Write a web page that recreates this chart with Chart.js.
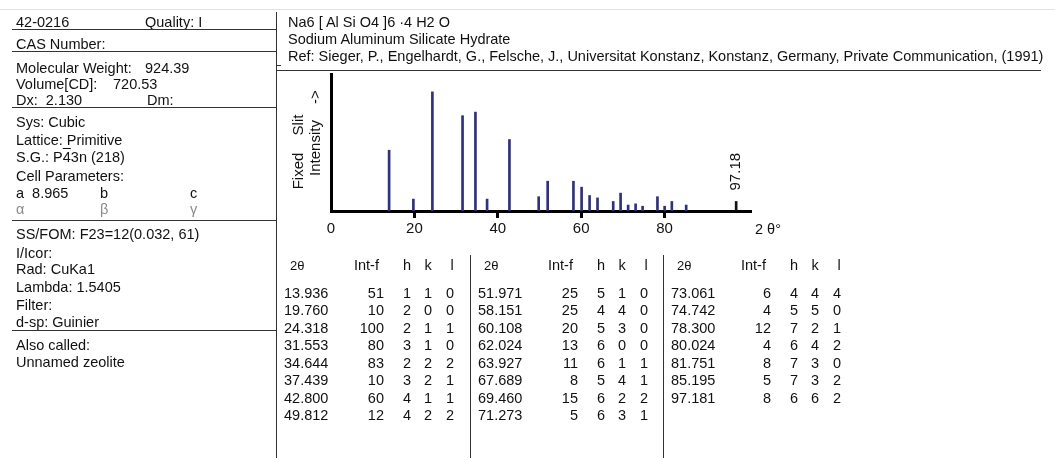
<!DOCTYPE html>
<html>
<head>
<meta charset="utf-8">
<script src="https://cdn.jsdelivr.net/npm/chart.js@4.4.0/dist/chart.umd.min.js"></script>
<style>
  html, body { margin: 0; padding: 0; background: #fff; }
  #page { position: relative; width: 1055px; height: 458px; overflow: hidden;
          font-family: "Liberation Sans", Arial, sans-serif; font-size: 14.5px; color: #111; }
  .t { position: absolute; white-space: pre; line-height: 17px; }
  .hl { position: absolute; height: 1px; background: #333; }
  .vl { position: absolute; width: 1px; background: #333; }
  .grey { color: #8a8a8a; }
  .rot { position: absolute; white-space: pre; font-size: 15px; line-height: 15px;
         transform: translate(-50%, -50%) rotate(-90deg); }
  canvas { position: absolute; left: 0; top: 0; }
</style>
</head>
<body>
<div id="page">
  <canvas id="xrd" width="1055" height="458"></canvas>
</div>
<script>
// peak list
const twoTheta  = [13.936, 19.760, 24.318, 31.553, 34.644, 37.439, 42.800, 49.812,
                   51.971, 58.151, 60.108, 62.024, 63.927, 67.689, 69.460, 71.273,
                   73.061, 74.742, 78.300, 80.024, 81.751, 85.195, 97.181];
const intensity = [51, 10, 100, 80, 83, 10, 60, 12,
                   25, 25, 20, 13, 11, 8, 15, 5,
                   6, 4, 12, 4, 8, 5, 8];
const hIdx = [1, 2, 2, 3, 2, 3, 4, 4,  5, 4, 5, 6, 6, 5, 6, 6,  4, 5, 7, 6, 7, 7, 6];
const kIdx = [1, 0, 1, 1, 2, 2, 1, 2,  1, 4, 3, 0, 1, 4, 2, 3,  4, 5, 2, 4, 3, 3, 6];
const lIdx = [0, 0, 1, 0, 2, 1, 1, 2,  0, 0, 0, 0, 1, 1, 2, 1,  4, 0, 1, 2, 0, 2, 2];
const xTicks = [0, 20, 40, 60, 80];
const markedPeak = '97.18';

const leftRows = [
    ['42-0216', 22], ['CAS Number:', 44], ['Molecular Weight:', 68], ['Volume[CD]:', 84],
    ['Dx:  2.130', 100], ['Sys: Cubic', 122], ['Lattice: Primitive', 140],
    ['Cell Parameters:', 176], ['a  8.965', 193],
    ['SS/FOM: F23=12(0.032, 61)', 234], ['I/Icor:', 253], ['Rad: CuKa1', 269],
    ['Lambda: 1.5405', 287], ['Filter:', 305], ['d-sp: Guinier', 322],
    ['Also called:', 345], ['Unnamed zeolite', 362]
];
const headRows = [
    'Na6 [ Al Si O4 ]6 \u00b74 H2 O',
    'Sodium Aluminum Silicate Hydrate',
    'Ref: Sieger, P., Engelhardt, G., Felsche, J., Universitat Konstanz, Konstanz, Germany, Private Communication, (1991)'
];

const page = document.getElementById('page');

function addText(txt, x, cy, cls, extra) {
    const d = document.createElement('div');
    d.className = 't' + (cls ? ' ' + cls : '');
    d.textContent = txt;
    d.style.left = x + 'px';
    d.style.top = (cy - 8.5) + 'px';
    if (extra) Object.assign(d.style, extra);
    page.appendChild(d);
    return d;
}

function addRight(txt, xr, cy) {
    return addText(txt, 0, cy, '', { left: 'auto', right: (1055 - xr) + 'px' });
}

function addCenter(txt, xc, cy) {
    return addText(txt, xc, cy, '', { transform: 'translateX(-50%)' });
}

function hLine(x1, x2, y, col) {
    const d = document.createElement('div');
    d.className = 'hl';
    d.style.left = x1 + 'px'; d.style.width = (x2 - x1) + 'px'; d.style.top = y + 'px';
    if (col) d.style.background = col;
    page.appendChild(d);
}

function vLine(x, y1, y2) {
    const d = document.createElement('div');
    d.className = 'vl';
    d.style.left = x + 'px'; d.style.top = y1 + 'px'; d.style.height = (y2 - y1) + 'px';
    page.appendChild(d);
}

function rotText(txt, cx, cy) {
    const d = document.createElement('div');
    d.className = 'rot';
    d.textContent = txt;
    d.style.left = cx + 'px';
    d.style.top = cy + 'px';
    page.appendChild(d);
}

// === LEFT PANEL ===
function buildLeft() {
    hLine(0, 1055, 9, '#dde2ea');
    leftRows.forEach(r => addText(r[0], 16, r[1]));
    addText('Quality: I', 145, 22);
    addText('924.39', 145, 68);
    addText('720.53', 113, 84);
    addText('Dm:', 147, 100);
    addText('b', 100, 193);
    addText('c', 190, 193);
    const sg = addText('', 16, 157);
    sg.innerHTML = 'S.G.: P<span style="text-decoration:overline">4</span>3n (218)';
    addText('\u03b1', 16, 209, 'grey');
    addText('\u03b2', 100, 209, 'grey');
    addText('\u03b3', 190, 209, 'grey');
    [29, 51, 107, 220, 330].forEach(y => hLine(12, 276, y));
    vLine(276, 12, 458);
    hLine(276, 281, 65);
}

// === HEADER + TABLE ===
function buildRight() {
    headRows.forEach((txt, i) => addText(txt, 288, 22 + i * 17));
    hLine(276, 1041, 70);

    const bases = [276, 470, 663];
    bases.forEach((b, g) => {
        if (g > 0) vLine(b, 255, 458);
        addText('2\u03b8', b + 14, 265, '', { fontSize: '13px' });
        addText('Int-f', b + 78, 265);
        addCenter('h', b + 131, 265);
        addCenter('k', b + 152, 265);
        addCenter('l', b + 176, 265);
        for (let r = 0; r < 8; r++) {
            const i = g * 8 + r;
            if (i >= twoTheta.length) break;
            const cy = 293 + r * 17.55;
            addText(twoTheta[i].toFixed(3), b + 8, cy);
            addRight(String(intensity[i]), b + 108, cy);
            addCenter(String(hIdx[i]), b + 131, cy);
            addCenter(String(kIdx[i]), b + 152, cy);
            addCenter(String(lIdx[i]), b + 174, cy);
        }
    });
}

// === STICK PATTERN ===
const peakLabel = {
    id: 'peakLabel',
    afterDatasetsDraw(chart) {
        const meta = chart.getDatasetMeta(0);
        const bar = meta.data[meta.data.length - 1];
        const ctx = chart.ctx;
        ctx.save();
        ctx.font = '15px "Liberation Sans", Arial, sans-serif';
        ctx.fillStyle = '#111';
        ctx.textAlign = 'left';
        ctx.textBaseline = 'middle';
        ctx.translate(bar.x, bar.y - 11);
        ctx.rotate(-Math.PI / 2);
        ctx.fillText(markedPeak, 0, 0);
        ctx.restore();
    }
};

function buildChart() {
    const last = twoTheta.length - 1;
    const ctx = document.getElementById('xrd').getContext('2d');
    new Chart(ctx, {
        type: 'bar',
        data: {
            datasets: [{
                data: twoTheta.map((t, i) => ({ x: t, y: intensity[i] })),
                backgroundColor: c => c.dataIndex === last ? '#111' : '#2e2e8c',
                barThickness: 2,
                borderWidth: 0
            }]
        },
        options: {
            responsive: false,
            animation: false,
            layout: { padding: { left: 331, top: 74, right: 305, bottom: 217 } },
            plugins: { legend: { display: false }, tooltip: { enabled: false } },
            scales: {
                x: {
                    type: 'linear',
                    min: 0,
                    max: 100.5,
                    offset: false,
                    afterBuildTicks: s => { s.ticks = xTicks.map(v => ({ value: v })); },
                    afterFit: s => { s.height = 30; },
                    border: { display: true, color: '#000', width: 3 },
                    grid: {
                        offset: false,
                        drawOnChartArea: false,
                        drawTicks: true,
                        tickLength: 7,
                        lineWidth: 3,
                        tickWidth: 3,
                        color: '#000',
                        tickColor: c => (c.tick && c.tick.value === 0) ? 'rgba(0,0,0,0)' : '#000'
                    },
                    ticks: {
                        color: '#111',
                        padding: 2,
                        maxRotation: 0,
                        font: { family: '"Liberation Sans", Arial, sans-serif', size: 15 }
                    }
                },
                y: {
                    min: 0,
                    max: 115,
                    afterFit: s => { s.width = 0; },
                    border: { display: true, color: '#000', width: 3 },
                    grid: { display: false },
                    ticks: { display: false }
                }
            }
        },
        plugins: [peakLabel]
    });
}

document.addEventListener('DOMContentLoaded', () => {
    buildLeft();
    buildRight();
    rotText('Fixed', 297, 171);
    rotText('Slit', 297, 125);
    rotText('Intensity', 314, 148);
    rotText('->', 314, 97);
    addText('2 \u03b8\u00b0', 755, 229);
    buildChart();
});
</script>
</body>
</html>
